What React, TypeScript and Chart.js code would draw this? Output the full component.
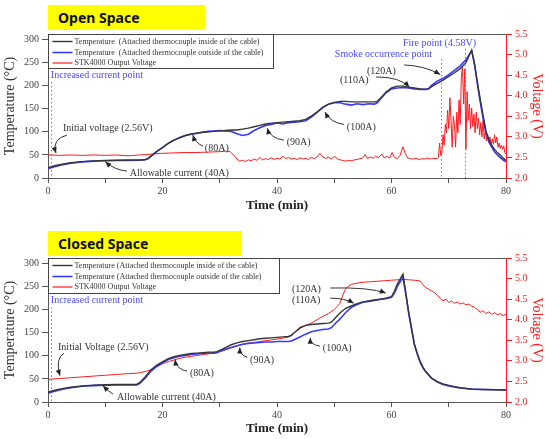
import React, { useEffect, useRef } from "react";
import { Chart, registerables } from "chart.js";

Chart.register(...registerables);

// ---------------- Open Space data ----------------
const openTempTime = [0, 1, 2, 3, 4, 6, 8, 10, 12, 14, 16, 17, 17.5, 18, 19, 20, 21, 22, 23, 24, 25, 26, 27, 28, 29, 30, 31, 32, 33, 34, 35, 36, 37, 38, 39, 40, 41, 42, 43, 44, 45, 46, 47, 48, 49, 50, 51, 52, 53, 54, 55, 56, 57, 57.5, 58, 59, 60, 61, 62, 63, 64, 65, 66, 66.5, 67, 68, 69, 70, 71, 72, 73, 74, 74.5, 75, 75.5, 76, 76.5, 77, 77.5, 78, 78.5, 79, 79.5, 80];
const openTempInside = [22, 26, 29, 31, 33, 35.5, 37, 38, 38.5, 39, 39, 40, 42, 48, 58, 66, 75, 82, 87, 92, 95, 97, 99, 100, 101, 102, 103, 104, 104, 106, 108, 111, 114, 117, 119, 120, 121, 122, 123, 124, 127, 134, 143, 153, 160, 164, 166, 166, 165, 165, 165, 165, 165, 166, 172, 186, 195, 199, 199, 197, 195, 193, 192, 193, 198, 205, 212, 220, 228, 237, 250, 277, 248, 208, 170, 135, 102, 84, 71, 62, 55, 50, 43, 38];
const openTempOutside = [20, 24, 27, 30, 32, 35, 36.5, 37.5, 38, 38, 38.5, 39.5, 42, 47, 57, 66, 75, 82, 88, 92, 95, 97, 99, 101, 102, 103, 102, 101, 96, 92, 95, 103, 109, 114, 116, 119, 117, 120, 121, 122, 124, 132, 142, 153, 160, 163, 163, 160, 158, 161, 159, 161, 160, 163, 170, 184, 193, 195, 196, 195, 193, 192, 192, 194, 201, 210, 216, 224, 233, 243, 256, 276, 246, 204, 165, 129, 97, 79, 67, 57, 50, 44, 39, 35];
const openVoltTime = [0, 2, 4, 6, 8, 10, 12, 14, 15, 16, 17, 18, 20, 22, 24, 26, 28, 30, 31, 31.8, 32.5, 33, 33.5, 34, 34.5, 35, 35.5, 36, 36.5, 37, 37.5, 38, 38.5, 39, 39.5, 40, 40.5, 41, 41.5, 42, 42.5, 43, 43.5, 44, 44.5, 45, 45.5, 46, 46.5, 47, 47.5, 48, 48.5, 49, 49.5, 50, 50.5, 51, 51.5, 52, 52.5, 53, 53.5, 54, 54.5, 55, 55.4, 55.8, 56.3, 56.8, 57.2, 57.7, 58.3, 58.7, 59.2, 59.7, 60.1, 60.5, 61, 61.5, 62, 62.4, 62.8, 63.3, 63.8, 64.3, 64.8, 65.3, 65.8, 66.3, 66.8, 67.3, 67.8, 68, 68.2, 68.4, 68.6, 68.8, 69, 69.2, 69.4, 69.6, 69.8, 70, 70.2, 70.4, 70.6, 70.8, 71, 71.2, 71.4, 71.6, 71.8, 72, 72.2, 72.4, 72.6, 72.8, 73, 73.2, 73.4, 73.6, 73.8, 74, 74.2, 74.4, 74.6, 74.8, 75, 75.2, 75.4, 75.6, 75.8, 76, 76.2, 76.4, 76.6, 76.8, 77, 77.2, 77.4, 77.6, 77.8, 78, 78.2, 78.4, 78.6, 78.8, 79, 79.2, 79.4, 79.6, 79.8, 80];
const openVolt = [2.56, 2.55, 2.56, 2.55, 2.56, 2.55, 2.56, 2.54, 2.55, 2.56, 2.57, 2.58, 2.6, 2.61, 2.62, 2.62, 2.63, 2.64, 2.65, 2.64, 2.55, 2.46, 2.41, 2.43, 2.4, 2.44, 2.42, 2.46, 2.43, 2.5, 2.44, 2.47, 2.45, 2.49, 2.45, 2.48, 2.46, 2.53, 2.47, 2.5, 2.46, 2.48, 2.45, 2.49, 2.46, 2.48, 2.45, 2.5, 2.47, 2.51, 2.6, 2.51, 2.48, 2.5, 2.46, 2.53, 2.47, 2.44, 2.43, 2.41, 2.43, 2.42, 2.44, 2.45, 2.47, 2.49, 2.57, 2.47, 2.51, 2.48, 2.53, 2.49, 2.58, 2.49, 2.52, 2.49, 2.62, 2.5, 2.47, 2.55, 2.76, 2.6, 2.49, 2.47, 2.46, 2.48, 2.45, 2.47, 2.46, 2.48, 2.46, 2.48, 2.47, 2.47, 2.5, 2.85, 2.55, 2.6, 3.05, 2.8, 3.3, 3.1, 3.65, 3.2, 3.95, 3.4, 2.75, 3.5, 3.3, 2.75, 3.6, 3.1, 3.9, 3.3, 4.45, 4.7, 3.8, 4.65, 2.7, 4.1, 3.4, 3.8, 3.2, 3.7, 3.25, 3.55, 3.1, 3.6, 3.2, 3.45, 3.05, 3.35, 3.0, 3.4, 2.95, 3.15, 2.9, 3.05, 2.85, 3.0, 2.8, 2.95, 2.82, 3.05, 2.85, 3.0, 2.75, 2.85, 2.72, 2.8, 2.7, 2.78, 2.62, 2.58];

// ---------------- Closed Space data ----------------
const closedTempTime = [0, 1, 2, 3, 4, 6, 8, 10, 12, 14, 15.5, 16, 17, 18, 19, 20, 21, 22, 23, 24, 25, 26, 27, 28, 29, 29.5, 30, 31, 32, 33, 34, 35, 36, 37, 38, 39, 40, 41, 42, 42.5, 43, 44, 45, 46, 47, 48, 49, 49.5, 50, 51, 52, 53, 54, 55, 56, 57, 58, 59, 60, 60.5, 61, 62, 62.5, 63, 63.5, 64, 64.5, 65, 65.5, 66, 67, 68, 69, 70, 71, 72, 74, 76, 78, 80];
const closedTempInside = [21, 25, 28, 30, 32, 35, 36.5, 37.5, 38, 38, 38, 42, 55, 70, 80, 87, 94, 98, 101, 103, 105, 106, 107, 108, 108, 109, 112, 118, 124, 128, 131, 133, 135, 137, 138, 139, 140, 141, 142, 144, 150, 160, 166, 168, 169, 170, 171, 173, 180, 193, 203, 208, 213, 217, 219, 221, 223, 225, 228, 240, 255, 277, 236, 195, 160, 125, 105, 88, 75, 66, 52, 44, 39, 36, 33, 31, 28, 27, 26.5, 26];
const closedTempOutside = [19, 23, 26, 29, 31, 34, 35.5, 36.5, 37, 37, 37, 40, 52, 67, 77, 85, 92, 96, 99, 101, 103, 104, 105, 106, 106, 107, 110, 114, 118, 122, 125, 127, 128, 129, 130, 130, 131, 131, 131, 132, 135, 141, 147, 152, 155, 157, 158, 161, 168, 180, 194, 205, 211, 216, 218, 220, 222, 224, 227, 236, 250, 270, 234, 192, 158, 124, 104, 87, 74, 65, 51, 43, 38, 35, 32.5, 30.5, 28, 27, 26.5, 26];
const closedVoltTime = [0, 2, 4, 6, 8, 10, 12, 14, 15.5, 16, 17, 18, 19, 20, 21, 22, 23, 24, 25, 26, 27, 28, 29, 30, 31, 32, 33, 34, 35, 36, 37, 38, 39, 40, 41, 42, 43, 44, 45, 46, 47, 48, 49, 50, 50.5, 51, 51.5, 52, 52.5, 53, 54, 55, 56, 57, 58, 59, 60, 61, 62, 63, 64, 65, 65.5, 66, 66.5, 67, 67.5, 68, 68.5, 69, 69.5, 70, 70.5, 71, 71.5, 72, 72.5, 73, 73.5, 74, 74.5, 75, 75.5, 76, 76.5, 77, 77.5, 78, 78.5, 79, 79.5, 80];
const closedVolt = [2.55, 2.57, 2.59, 2.61, 2.63, 2.65, 2.67, 2.69, 2.7, 2.71, 2.74, 2.78, 2.86, 2.93, 2.98, 3.02, 3.06, 3.09, 3.11, 3.13, 3.15, 3.17, 3.19, 3.22, 3.27, 3.32, 3.36, 3.4, 3.43, 3.45, 3.47, 3.49, 3.51, 3.53, 3.55, 3.58, 3.68, 3.82, 3.86, 3.92, 4.0, 4.08, 4.15, 4.25, 4.32, 4.4, 4.6, 4.75, 4.82, 4.86, 4.89, 4.91, 4.92, 4.93, 4.94, 4.95, 4.96, 4.97, 4.98, 4.97, 4.96, 4.94, 4.85, 4.78, 4.74, 4.7, 4.66, 4.6, 4.52, 4.46, 4.5, 4.42, 4.45, 4.4, 4.43, 4.38, 4.41, 4.36, 4.38, 4.33, 4.3, 4.25, 4.18, 4.22, 4.15, 4.19, 4.13, 4.17, 4.12, 4.15, 4.1, 4.13];

// ---------------- labels ----------------
const openLegend = [
  "Temperature  (Attached thermocouple inside of the cable)",
  "Temperature  (Attached thermocouple outside of the cable)",
  "STK4000 Output Voltage",
];
const closedLegend = [
  "Temperature (Attached thermocouple inside of the cable)",
  "Temperature (Attached thermocouple outside of the cable)",
  "STK4000 Output Voltage",
];
const xTickLabels = [0, 20, 40, 60, 80];

const SERIF = "'Liberation Serif', 'Times New Roman', serif";
const BLACK = "#363636";
const BLUE = "#3838ff";
const RED = "#ff1a1a";
const NOTE_BLUE = "#4a4aff";

type Note = {
  text: string;
  at: [number, number];
  color?: string;
  arrow?: [[number, number], [number, number], [number, number]];
};

type Spec = {
  padTop: number;
  xAxisHeight: number;
  xTitlePad: number;
  legend: string[];
  legendW: number;
  legendH: number;
  tempTime: number[];
  inside: number[];
  outside: number[];
  voltTime: number[];
  volt: number[];
  dotted: { t: number; from: number }[];
  notes: Note[];
};

const openSpec: Spec = {
  padTop: 34,
  xAxisHeight: 42,
  xTitlePad: 7,
  legend: openLegend,
  legendW: 225,
  legendH: 34,
  tempTime: openTempTime,
  inside: openTempInside,
  outside: openTempOutside,
  voltTime: openVoltTime,
  volt: openVolt,
  dotted: [
    { t: 0.5, from: 208 },
    { t: 68.6, from: 258 },
    { t: 72.9, from: 280 },
  ],
  notes: [
    { text: "Increased current point", at: [0.5, 223], color: NOTE_BLUE },
    { text: "Initial voltage (2.56V)", at: [2.6, 108], arrow: [[3.3, 93], [0.6, 84], [1.4, 54]] },
    { text: "Allowable current (40A)", at: [14.3, 11], arrow: [[13.8, 15], [11.7, 17], [10, 35]] },
    { text: "(80A)", at: [27.4, 65], arrow: [[27.1, 69], [25.7, 76], [25.3, 93]] },
    { text: "(90A)", at: [41.7, 78], arrow: [[41.2, 82], [38.8, 86], [38.3, 108]] },
    { text: "(100A)", at: [52.2, 110], arrow: [[51.7, 116], [49.3, 120], [48.4, 143]] },
    { text: "(110A)", at: [51, 212], arrow: [[57.3, 219], [61.5, 219], [63.1, 197]] },
    { text: "(120A)", at: [55.7, 232], arrow: [[62.2, 245], [65.9, 243], [68.5, 224]] },
    { text: "Smoke occurrence point", at: [50.1, 267], color: NOTE_BLUE },
    { text: "Fire point (4.58V)", at: [62, 292], color: NOTE_BLUE },
  ],
};

const closedSpec: Spec = {
  padTop: 38,
  xAxisHeight: 37,
  xTitlePad: 3,
  legend: closedLegend,
  legendW: 231,
  legendH: 35,
  tempTime: closedTempTime,
  inside: closedTempInside,
  outside: closedTempOutside,
  voltTime: closedVoltTime,
  volt: closedVolt,
  dotted: [{ t: 0.5, from: 205 }],
  notes: [
    { text: "Increased current point", at: [0.5, 221], color: NOTE_BLUE },
    { text: "Initial Voltage (2.56V)", at: [1.75, 119], arrow: [[2.8, 106], [1.2, 93], [2.1, 57]] },
    { text: "Allowable current (40A)", at: [12.05, 11], arrow: [[11.35, 17], [10.5, 24], [9.6, 35]] },
    { text: "(80A)", at: [24.8, 63], arrow: [[24.3, 67], [22.4, 71], [22.2, 92]] },
    { text: "(90A)", at: [35.3, 91], arrow: [[34.8, 97], [33.5, 101], [33.5, 118]] },
    { text: "(100A)", at: [48, 117], arrow: [[47.5, 121], [45.8, 124], [45.8, 139]] },
    { text: "(120A)", at: [42.6, 243], arrow: [[49.3, 247], [56.2, 249], [59, 236]] },
    { text: "(110A)", at: [42.6, 221], arrow: [[49.3, 225], [51.9, 225], [53.4, 214]] },
  ],
};

function pts(xs: number[], ys: number[]) {
  return xs.map((x, i) => ({ x, y: ys[i] }));
}

function drawArrow(ctx: CanvasRenderingContext2D, p0: number[], c: number[], p1: number[]) {
  ctx.beginPath();
  ctx.moveTo(p0[0], p0[1]);
  ctx.quadraticCurveTo(c[0], c[1], p1[0], p1[1]);
  ctx.stroke();
  const ang = Math.atan2(p1[1] - c[1], p1[0] - c[0]);
  const L = 6;
  const W = 2.6;
  ctx.beginPath();
  ctx.moveTo(p1[0], p1[1]);
  ctx.lineTo(p1[0] - L * Math.cos(ang) + W * Math.sin(ang), p1[1] - L * Math.sin(ang) - W * Math.cos(ang));
  ctx.lineTo(p1[0] - L * Math.cos(ang) - W * Math.sin(ang), p1[1] - L * Math.sin(ang) + W * Math.cos(ang));
  ctx.closePath();
  ctx.fill();
}

function notesPlugin(spec: Spec) {
  return {
    id: "notes",
    beforeDatasetsDraw(chart: any) {
      const { ctx, scales } = chart;
      const x = scales.x;
      const y = scales.y;
      ctx.save();
      ctx.strokeStyle = "#7070ff";
      ctx.lineWidth = 1;
      ctx.setLineDash([1.5, 2.5]);
      for (const d of spec.dotted) {
        const px = Math.round(x.getPixelForValue(d.t)) + 0.5;
        ctx.beginPath();
        ctx.moveTo(px, y.getPixelForValue(d.from));
        ctx.lineTo(px, y.getPixelForValue(0));
        ctx.stroke();
      }
      ctx.restore();
    },
    afterDatasetsDraw(chart: any) {
      const { ctx, chartArea: a, scales } = chart;
      const x = scales.x;
      const y = scales.y;
      ctx.save();
      // top frame
      ctx.strokeStyle = "#555";
      ctx.lineWidth = 1;
      ctx.beginPath();
      ctx.moveTo(a.left, Math.round(a.top) + 0.5);
      ctx.lineTo(a.right, Math.round(a.top) + 0.5);
      ctx.stroke();

      // legend box
      const lx = Math.round(a.left) + 0.5;
      const ly = Math.round(a.top) + 0.5;
      ctx.fillStyle = "#fff";
      ctx.fillRect(lx, ly, spec.legendW, spec.legendH);
      ctx.strokeStyle = "#444";
      ctx.strokeRect(lx, ly, spec.legendW, spec.legendH);
      const colors = [BLACK, BLUE, RED];
      const widths = [1.4, 1.6, 1.2];
      const offs = [7, 18, 28.5];
      ctx.font = `8px ${SERIF}`;
      ctx.textBaseline = "middle";
      ctx.textAlign = "left";
      spec.legend.forEach((lab, i) => {
        const yy = ly + offs[i];
        ctx.strokeStyle = colors[i];
        ctx.lineWidth = widths[i];
        ctx.beginPath();
        ctx.moveTo(lx + 4, yy);
        ctx.lineTo(lx + 24, yy);
        ctx.stroke();
        ctx.fillStyle = "#333";
        ctx.fillText(lab, lx + 26, yy);
      });

      // notes & arrows
      ctx.font = `10px ${SERIF}`;
      ctx.lineWidth = 1;
      for (const n of spec.notes) {
        const col = n.color || "#333";
        ctx.fillStyle = col;
        ctx.fillText(n.text, x.getPixelForValue(n.at[0]), y.getPixelForValue(n.at[1]));
        if (n.arrow) {
          ctx.strokeStyle = "#333";
          ctx.fillStyle = "#222";
          const p = n.arrow.map((q) => [x.getPixelForValue(q[0]), y.getPixelForValue(q[1])]);
          drawArrow(ctx, p[0], p[1], p[2]);
        }
      }
      ctx.restore();
    },
  };
}

function buildConfig(spec: Spec): any {
  const tickFont = { family: SERIF, size: 10 };
  return {
    type: "line",
    data: {
      datasets: [
        {
          label: spec.legend[0],
          data: pts(spec.tempTime, spec.inside),
          borderColor: BLACK,
          borderWidth: 1.4,
          pointRadius: 0,
          tension: 0,
          yAxisID: "y",
        },
        {
          label: spec.legend[1],
          data: pts(spec.tempTime, spec.outside),
          borderColor: BLUE,
          borderWidth: 1.6,
          pointRadius: 0,
          tension: 0,
          yAxisID: "y",
        },
        {
          label: spec.legend[2],
          data: pts(spec.voltTime, spec.volt),
          borderColor: RED,
          borderWidth: 1,
          pointRadius: 0,
          tension: 0,
          yAxisID: "yV",
        },
      ],
    },
    options: {
      responsive: false,
      animation: false,
      devicePixelRatio: 1,
      events: [],
      layout: { padding: { top: spec.padTop, left: 0, right: 0, bottom: 0 } },
      plugins: { legend: { display: false }, tooltip: { enabled: false }, title: { display: false } },
      scales: {
        x: {
          type: "linear",
          position: "bottom",
          min: 0,
          max: 80,
          afterFit: (s: any) => {
            s.height = spec.xAxisHeight;
          },
          ticks: {
            stepSize: 10,
            autoSkip: false,
            maxRotation: 0,
            padding: 2,
            font: tickFont,
            color: "#444",
            callback: (v: any) => (xTickLabels.includes(Number(v)) ? String(v) : ""),
          },
          grid: { drawOnChartArea: false, drawTicks: true, tickLength: 5, color: "#555" },
          border: { display: true, color: "#555", width: 1 },
          title: {
            display: true,
            text: "Time (min)",
            color: "#222",
            font: { family: SERIF, size: 13, weight: "bold" },
            padding: { top: 0, bottom: spec.xTitlePad },
          },
        },
        y: {
          type: "linear",
          position: "left",
          min: 0,
          max: 312,
          afterFit: (s: any) => {
            s.width = 48;
          },
          ticks: { stepSize: 50, includeBounds: false, padding: 3, font: tickFont, color: "#444" },
          grid: { drawOnChartArea: false, drawTicks: true, tickLength: 6, color: "#555" },
          border: { display: true, color: "#555", width: 1 },
          title: {
            display: true,
            text: "Temperature (°C)",
            color: "#333",
            font: { family: SERIF, size: 14 },
            padding: { top: 2, bottom: 0 },
          },
        },
        yV: {
          type: "linear",
          position: "right",
          min: 2,
          max: 5.5,
          afterFit: (s: any) => {
            s.width = 39;
          },
          ticks: {
            stepSize: 0.5,
            padding: 3,
            font: tickFont,
            color: RED,
            callback: (v: any) => Number(v).toFixed(1),
          },
          grid: { drawOnChartArea: false, drawTicks: true, tickLength: 6, color: RED },
          border: { display: true, color: RED, width: 1 },
          title: {
            display: true,
            text: "Voltage (V)",
            color: RED,
            font: { family: SERIF, size: 14 },
            padding: { top: 0, bottom: 0 },
          },
        },
      },
    },
    plugins: [notesPlugin(spec)],
  };
}

const titleStyle = (left: number, top: number, width: number, height: number): React.CSSProperties => ({
  position: "absolute",
  left,
  top,
  width,
  height,
  background: "#ffff00",
  fontFamily: "'Noto Sans', 'Open Sans', sans-serif",
  fontWeight: 700,
  fontSize: 14,
  lineHeight: `${height}px`,
  paddingLeft: 10,
  boxSizing: "border-box",
  color: "#111",
  zIndex: 2,
});

export default function App() {
  const topRef = useRef<HTMLCanvasElement>(null);
  const botRef = useRef<HTMLCanvasElement>(null);

  useEffect(() => {
    const c1 = new Chart(topRef.current as HTMLCanvasElement, buildConfig(openSpec));
    const c2 = new Chart(botRef.current as HTMLCanvasElement, buildConfig(closedSpec));
    return () => {
      c1.destroy();
      c2.destroy();
    };
  }, []);

  return (
    <div
      style={{
        position: "absolute",
        left: 0,
        top: 0,
        width: 545,
        height: 439,
        background: "#fff",
        overflow: "hidden",
      }}
    >
      <canvas
        ref={topRef}
        width={545}
        height={220}
        style={{ position: "absolute", left: 0, top: 0, width: 545, height: 220 }}
      />
      <canvas
        ref={botRef}
        width={545}
        height={219}
        style={{ position: "absolute", left: 0, top: 220, width: 545, height: 219 }}
      />
      <div style={titleStyle(48, 5, 157, 25)}>Open Space</div>
      <div style={titleStyle(48, 231, 194, 25)}>Closed Space</div>
    </div>
  );
}
